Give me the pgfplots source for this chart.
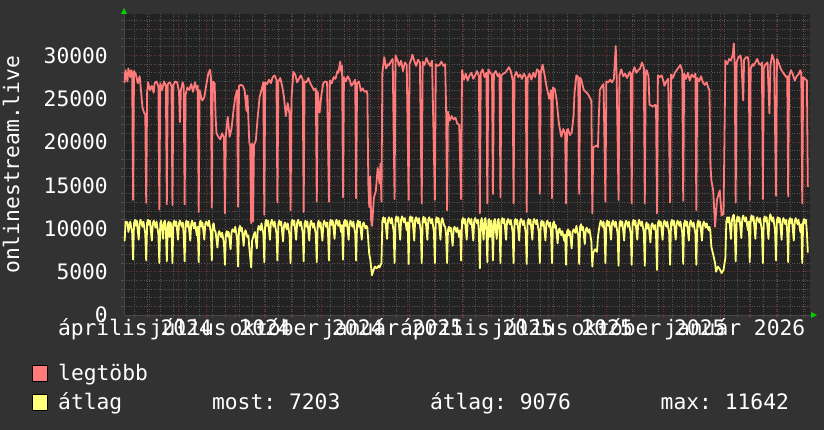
\documentclass[border=0pt]{standalone}
\usepackage{fontspec}
\setmainfont{DejaVu Sans Mono}
\usepackage{pgfplots}
\pgfplotsset{compat=1.18}
\usetikzlibrary{arrows.meta}
\definecolor{outerbg}{RGB}{50,50,50}
\definecolor{canvasbg}{RGB}{34,34,34}
\definecolor{gridgray}{RGB}{84,84,84}
\definecolor{gridred}{RGB}{112,50,50}
\definecolor{maxred}{RGB}{255,122,122}
\definecolor{avgyel}{RGB}{255,255,122}
\definecolor{arrowgreen}{RGB}{0,204,0}
\definecolor{axisgray}{RGB}{70,70,70}
\newcommand\rf{\fontsize{21.3pt}{25pt}\selectfont}
\frenchspacing
\begin{document}
\frenchspacing
\begin{tikzpicture}
\useasboundingbox (-124pt,-115pt) rectangle (700pt,315pt);
\fill[outerbg] (-124pt,-115pt) rectangle (700pt,315pt);
\begin{axis}[
  at={(0pt,0pt)}, anchor=south west,
  scale only axis, width=686pt, height=300.5pt,
  xmin=3.3, xmax=735.3, ymin=0, ymax=34740,
  scaled ticks=false,
  axis background/.style={fill=canvasbg},
  axis lines*=left,
  axis line style={draw=axisgray, line width=0.8pt},
  x axis line style={-{Triangle[length=6pt,width=6pt,color=arrowgreen]}, shorten >=-7pt},
  y axis line style={-{Triangle[length=6pt,width=6pt,color=arrowgreen]}, shorten >=-6.5pt},
  xtick={15,106,198,290,380,471,563,655},
  xticklabels={április 2024,július 2024,október 2024,január 2025,április 2025,július 2025,október 2025,január 2026},
  minor xtick={14,28,...,728},
  extra x ticks={30,61,91,122,153,183,214,244,275,306,334,365,395,426,456,487,518,548,579,609,640,671,699,730},
  extra x tick labels={},
  extra x tick style={grid=major, major grid style={draw=gridred, line width=0.8pt, dash pattern=on 1pt off 1.5pt}, major tick length=3pt, tick style={draw=gridred, line width=0.8pt}},
  ytick={0,5000,10000,15000,20000,25000,30000},
  yticklabels={0,5000,10000,15000,20000,25000,30000},
  minor ytick={1000,2000,3000,4000,6000,7000,8000,9000,11000,12000,13000,14000,16000,17000,18000,19000,21000,22000,23000,24000,26000,27000,28000,29000,31000,32000,33000,34000},
  xmajorgrids=false, ymajorgrids=true, xminorgrids=true, yminorgrids=true,
  major grid style={draw=gridred, line width=0.8pt, dash pattern=on 1pt off 1.5pt},
  minor grid style={draw=gridgray, line width=0.8pt, dash pattern=on 1pt off 1.5pt},
  tick align=outside, major tick length=0pt, minor tick length=2.5pt,
  tick style={draw=gridgray, line width=0.8pt},
  xticklabel style={font=\rf, text=white, anchor=base, inner sep=0pt, yshift=-21pt},
  yticklabel style={font=\rf, text=white, anchor=east, inner sep=0pt, xshift=-16pt},
  ylabel={onlinestream.live},
  every axis y label/.style={at={(axis description cs:-0.1647,0.5)}, rotate=90, anchor=center, font=\rf, text=white},
]
\addplot[maxred, line width=1.8pt, line join=round, mark=none] coordinates {
(3,28000)(4,26900)(5,28300)(7,27000)(8,28500)(10,27500)(11,28300)(12,28000)(13,13300)(14,28200)(16,27800)(18,26800)(20,27600)(21,26500)(23,24000)(25,23300)(26,23300)(27,12950)(28,25800)(29,26900)(31,26000)(33,26500)(35,25700)(36,26800)(38,27000)(40,26400)(41,12200)(42,26800)(44,26000)(46,27000)(48,26500)(49,12800)(50,26700)(52,26900)(54,26500)(55,12700)(56,26600)(58,27000)(60,26900)(62,25800)(63,22300)(64,26000)(66,26900)(67,26500)(68,12800)(69,25500)(71,26300)(73,26000)(75,26700)(77,25800)(79,26900)(81,26000)(82,26500)(83,11900)(84,26000)(86,25000)(87,24800)(89,25200)(91,26500)(93,27800)(95,28350)(96,27500)(97,12400)(98,27000)(100,26800)(101,23000)(102,21000)(104,20600)(106,20300)(108,21000)(110,20500)(111,11750)(112,20800)(114,22900)(116,20600)(118,21500)(120,23500)(122,25200)(124,26000)(125,12500)(126,26500)(128,26600)(130,26500)(132,26000)(134,23600)(135,25400)(137,20000)(138,19500)(139,10600)(140,19800)(141,10800)(142,19600)(144,20200)(146,22900)(148,25200)(150,26000)(152,26900)(153,11600)(154,26900)(156,26700)(158,27200)(160,26800)(162,27500)(164,27700)(166,27200)(167,13000)(168,27000)(170,27400)(172,26500)(174,25200)(176,23000)(178,24500)(180,23200)(181,12100)(182,25000)(184,28100)(186,27800)(188,26900)(190,27300)(192,27700)(194,27200)(195,11900)(196,27000)(198,26900)(200,27400)(202,26800)(204,26400)(206,26000)(208,26200)(209,13100)(210,25800)(212,23400)(214,25500)(216,26800)(218,27000)(220,26900)(222,13100)(223,27100)(225,26800)(227,27500)(229,27300)(231,28200)(232,28000)(234,29300)(235,28200)(236,28800)(237,13600)(238,27500)(240,27000)(242,27600)(244,27200)(246,26500)(248,26800)(250,27200)(251,13500)(252,26800)(254,27000)(256,25900)(258,26200)(260,25800)(262,25900)(263,25600)(264,15200)(265,12500)(266,16000)(267,11000)(268,10300)(270,13600)(272,14300)(274,17000)(275,16000)(276,15200)(277,17500)(278,13100)(279,28000)(281,29800)(283,28500)(285,29000)(286,28850)(288,29300)(290,29600)(292,13400)(293,30000)(295,29500)(297,28800)(299,29400)(301,28200)(303,29200)(305,28900)(307,13300)(308,29000)(310,29600)(311,30100)(313,29400)(315,28800)(317,29500)(319,29200)(321,12900)(322,29300)(324,28900)(326,29700)(328,29200)(330,28800)(332,29400)(335,13300)(336,29000)(338,28800)(340,28900)(342,29300)(344,28800)(346,29000)(347,24000)(348,12100)(349,23500)(351,22500)(353,23000)(355,22600)(357,22800)(359,22100)(361,22000)(363,13400)(364,28300)(366,27200)(368,27900)(370,27100)(372,27700)(374,28000)(376,27300)(378,27700)(380,28200)(382,27600)(383,11750)(384,28000)(386,28400)(388,27500)(390,28000)(391,12900)(392,28400)(394,28000)(396,27800)(397,14000)(398,27900)(400,28200)(402,27600)(404,27900)(405,13600)(406,27700)(408,27900)(410,28000)(412,28300)(414,28650)(416,28200)(418,27200)(419,12900)(420,27600)(422,28100)(424,27500)(426,27800)(428,27300)(430,27900)(432,27500)(433,11900)(434,27400)(436,27900)(438,27200)(440,28000)(442,27500)(444,28400)(446,28200)(447,14000)(448,28000)(450,28950)(452,27800)(454,26500)(456,25500)(457,25000)(459,26000)(460,13500)(461,26300)(463,26100)(465,24800)(467,22500)(468,21700)(470,20600)(472,21500)(474,21000)(475,12900)(476,21400)(477,21500)(479,20800)(481,21100)(483,23000)(484,25600)(486,27700)(488,27500)(489,14000)(490,27400)(491,27300)(493,26400)(494,26000)(496,25800)(498,25600)(500,25200)(502,24800)(503,11750)(504,19400)(506,19500)(508,19600)(509,19400)(510,23000)(511,26000)(513,26400)(515,26700)(517,13100)(518,27000)(520,26900)(522,27200)(524,26900)(526,27300)(528,31100)(529,27400)(531,13300)(532,27700)(534,28400)(536,27600)(538,27900)(540,27400)(543,28100)(544,27800)(545,12900)(546,28000)(548,28650)(550,28000)(552,28300)(554,28500)(556,29200)(558,28600)(559,12900)(560,28000)(561,28300)(563,27600)(564,24300)(566,24200)(568,24100)(570,24300)(571,24200)(572,11750)(573,27700)(575,27500)(577,27700)(579,27000)(580,26500)(582,27000)(584,27300)(586,13000)(587,27800)(589,27400)(591,28000)(593,28300)(595,28600)(597,28900)(599,28200)(600,13200)(601,27900)(603,27300)(605,28000)(607,27100)(609,27800)(611,27500)(613,27900)(614,12100)(615,27400)(617,27000)(619,27600)(621,26900)(623,26600)(625,26900)(627,26200)(628,26000)(629,17500)(630,15600)(632,14400)(634,10200)(636,13300)(639,14400)(641,11500)(643,11700)(644,20000)(645,29400)(647,29000)(649,29600)(651,29400)(653,30200)(654,31400)(655,28500)(656,13000)(657,29200)(659,29800)(661,30000)(662,29500)(664,24800)(665,29500)(667,29800)(669,29800)(670,29000)(671,13300)(672,28500)(674,29000)(675,28800)(677,29200)(679,29600)(681,29000)(683,28900)(684,29200)(685,13400)(686,28600)(688,29000)(690,29200)(692,23300)(693,28800)(695,30100)(697,29400)(699,13800)(700,29600)(702,29100)(704,28500)(706,28100)(708,27800)(710,27500)(711,27600)(712,13700)(713,27600)(715,28300)(717,27800)(719,27100)(721,27600)(723,27800)(725,28300)(726,27900)(727,12900)(728,27500)(730,27300)(732,27100)(733,14800)
};
\addplot[avgyel, line width=1.8pt, line join=round, mark=none] coordinates {
(3,9000)(4,8600)(5,10800)(7,10700)(8,9600)(10,10800)(12,9500)(13,6400)
(14,10600)(15,11000)(16,10300)(17,10900)(19,8700)(20,10600)(21,11000)(23,10200)(24,10800)(26,9400)(27,6300)
(28,10700)(29,11000)(30,10400)(31,10900)(33,8600)(34,10500)(35,10900)(37,10100)(38,10800)(40,9300)(41,6000)
(42,10600)(43,10900)(45,8800)(46,10700)(47,10900)(48,9800)(49,6200)
(50,10500)(51,10800)(52,9000)(53,10700)(54,9900)(55,6000)
(56,10600)(57,10900)(58,10300)(59,10800)(61,8700)(62,10600)(63,10900)(65,10200)(66,10700)(67,9300)(68,6200)
(69,10500)(70,10900)(71,10200)(72,10800)(74,8600)(75,10500)(76,10900)(78,10000)(79,10700)(81,9200)(82,10200)(83,6100)
(84,10600)(85,10900)(86,10200)(87,10700)(89,8700)(90,10500)(91,10800)(93,10300)(94,10900)(96,9500)(97,6300)
(98,10400)(99,10600)(100,9800)(101,9600)(103,7800)(104,9400)(105,9700)(107,9000)(108,9500)(110,8300)(111,5800)
(112,9300)(113,9700)(114,9100)(115,9600)(117,7600)(118,9500)(119,9900)(121,9600)(122,10200)(124,8800)(125,5600)
(126,9900)(127,10300)(128,9700)(129,10100)(131,8000)(132,9500)(133,9800)(135,9000)(136,9200)(137,7800)(139,5500)
(140,8600)(142,9300)(143,9600)(145,7700)(146,9800)(147,10300)(149,9800)(150,10600)(152,9400)(153,6100)
(154,10600)(155,11000)(156,10300)(157,10900)(159,8700)(160,10600)(161,11000)(163,10200)(164,10800)(166,9400)(167,6300)
(168,10500)(169,10900)(170,10400)(171,10800)(173,8500)(174,10300)(175,10700)(177,9900)(178,10600)(180,9200)(181,6000)
(182,10700)(183,11000)(184,10400)(185,10900)(187,8700)(188,10600)(189,11000)(191,10300)(192,10800)(194,9500)(195,6200)
(196,10600)(197,10900)(198,10200)(199,10800)(201,8600)(202,10500)(203,10900)(205,10100)(206,10600)(208,9300)(209,6100)
(210,10500)(211,10900)(212,10200)(213,10700)(215,8600)(216,10500)(217,10900)(219,10200)(220,10700)(221,9500)(222,6300)
(223,10700)(224,11000)(225,10400)(226,10900)(228,8800)(229,10700)(230,11000)(232,10300)(233,10900)(235,9600)(236,10400)(237,6400)
(238,10700)(239,11000)(240,10300)(241,10900)(243,8700)(244,10600)(245,10900)(247,10200)(248,10800)(250,9400)(251,6300)
(252,10500)(253,10900)(254,10200)(255,10800)(257,8700)(258,10400)(259,10700)(261,10000)(262,10300)(263,10100)
(264,8500)(265,7000)(266,6500)(267,5500)(268,4600)(269,5000)(271,5600)(273,5400)(275,5700)(276,5500)(278,6000)
(279,10800)(280,11300)(281,10700)(282,11200)(284,8800)(285,10900)(286,11300)(288,10600)(289,11200)(291,9700)(292,6000)
(293,11000)(294,11400)(295,10800)(296,11300)(298,8700)(299,11000)(300,11400)(302,10700)(303,11200)(305,9800)(306,10700)(307,5900)
(308,11100)(309,11400)(310,10800)(311,11300)(313,8600)(314,11000)(315,11300)(317,10600)(318,11200)(320,9700)(321,6000)
(322,11000)(323,11350)(324,10700)(325,11200)(327,8700)(328,11000)(329,11300)(331,10600)(332,11100)(334,9600)(335,6000)
(336,11000)(337,11300)(338,10700)(339,11200)(341,8700)(342,10900)(343,11200)(345,10300)(346,10200)(347,9300)(348,6000)
(349,9800)(350,10200)(351,9700)(352,10100)(354,8000)(355,9900)(356,10200)(358,9600)(359,10100)(361,9000)(362,9800)(363,6300)
(364,10900)(365,11200)(366,10600)(367,11100)(369,8700)(370,10900)(371,11200)(373,10500)(374,11100)(376,8600)(377,10900)(378,11200)(380,10600)(381,11000)(382,9500)(383,5400)
(384,10800)(385,11200)(387,8700)(388,11000)(389,11200)(390,9800)(391,6100)
(392,10900)(393,11100)(394,9000)(395,10900)(396,10000)(397,6300)
(398,10800)(399,11100)(401,8800)(402,10900)(403,11100)(404,9800)(405,6000)
(406,10900)(407,11200)(408,10600)(409,11100)(411,8700)(412,10800)(413,11100)(415,10500)(416,11000)(418,9600)(419,6000)
(420,10900)(421,11100)(422,10500)(423,11000)(425,8600)(426,10800)(427,11100)(429,10400)(430,10900)(432,9500)(433,5900)
(434,10800)(435,11100)(436,10500)(437,11000)(439,8700)(440,10800)(441,11100)(443,10500)(444,11000)(446,9500)(447,6000)
(448,10600)(449,10900)(450,10300)(451,10800)(453,8600)(454,10600)(455,10900)(457,10200)(458,10700)(459,9400)(460,6000)
(461,10500)(462,10800)(463,10100)(464,10400)(466,8300)(467,9800)(468,10000)(470,9200)(471,9700)(473,8600)(474,9300)(475,5800)
(476,9600)(477,9900)(478,9200)(479,9700)(481,7700)(482,9600)(483,9900)(485,9500)(486,10300)(488,9200)(489,5900)
(490,10200)(491,10500)(492,9800)(493,10200)(495,8200)(496,9800)(497,10100)(499,9500)(500,9900)(502,8500)(503,5600)
(504,7200)(506,7600)(508,7300)(509,9000)(510,9800)(511,10500)(512,10900)(514,10200)(515,10800)(516,9600)(517,6000)
(518,10600)(519,10900)(520,10300)(521,10800)(523,8700)(524,10600)(525,10900)(527,10200)(528,10800)(530,9400)(531,5700)
(532,10600)(533,10900)(534,10300)(535,10800)(537,8600)(538,10500)(539,10900)(541,10200)(542,10800)(544,9400)(545,5800)
(546,10700)(547,11000)(548,10400)(549,10900)(551,8700)(552,10600)(553,11000)(555,10300)(556,10800)(558,9500)(559,5700)
(560,10400)(561,10700)(562,10000)(563,10500)(565,8400)(566,10300)(567,10600)(569,9900)(570,10400)(571,9300)(572,5200)
(573,10600)(574,10900)(575,10300)(576,10800)(578,8700)(579,10600)(580,10900)(582,10200)(583,10800)(585,9400)(586,5800)
(587,10700)(588,11000)(589,10400)(590,10900)(592,8700)(593,10600)(594,10900)(596,10300)(597,10800)(599,9500)(600,5900)
(601,10600)(602,10900)(603,10300)(604,10800)(606,8600)(607,10500)(608,10900)(610,10200)(611,10700)(613,9400)(614,5800)
(615,10500)(616,10900)(617,10200)(618,10800)(620,8600)(621,10400)(622,10800)(624,10100)(625,10600)(627,9800)(628,10200)
(629,9600)(630,7900)(632,7000)(634,6000)(635,5000)(637,5600)(639,5300)(641,4850)(643,5200)(645,6600)
(646,10800)(647,11300)(648,10700)(649,11300)(651,8800)(652,11000)(653,11400)(654,11600)(655,9600)(656,6200)
(657,11000)(658,11400)(659,10800)(660,11300)(662,8900)(663,11100)(664,11500)(666,10800)(667,11300)(669,9800)(670,10800)(671,6100)
(672,11100)(673,11500)(674,10900)(675,11400)(677,8800)(678,11000)(679,11300)(681,10700)(682,11200)(684,9700)(685,6000)
(686,11000)(687,11400)(688,10800)(689,11300)(691,8800)(692,11100)(693,11642)(695,10800)(696,11300)(698,9800)(699,6300)
(700,11000)(701,11300)(702,10700)(703,11200)(705,8700)(706,10900)(707,11200)(709,10500)(710,11000)(711,9600)(712,6100)
(713,10900)(714,11200)(715,10600)(716,11100)(718,8600)(719,10800)(720,11200)(722,10500)(723,11000)(725,9600)(726,10500)(727,6000)
(728,10800)(729,11100)(730,10600)(731,11000)(732,9500)(733,7203)
};
\end{axis}
\filldraw[fill=maxred, draw=black, line width=0.8pt] (-92pt,-66pt) rectangle (-77pt,-50pt);
\node[anchor=base west, inner sep=0pt, font=\rf, text=white] at (-66pt,-66pt) {legtöbb};
\filldraw[fill=avgyel, draw=black, line width=0.8pt] (-92pt,-95pt) rectangle (-77pt,-79pt);
\node[anchor=base west, inner sep=0pt, font=\rf, text=white] at (-66pt,-95pt) {átlag};
\node[anchor=base west, inner sep=0pt, font=\rf, text=white] at (87.9pt,-95pt) {most: 7203};
\node[anchor=base west, inner sep=0pt, font=\rf, text=white] at (305.8pt,-95pt) {átlag: 9076};
\node[anchor=base west, inner sep=0pt, font=\rf, text=white] at (536.5pt,-95pt) {max: 11642};
\end{tikzpicture}
\end{document}
